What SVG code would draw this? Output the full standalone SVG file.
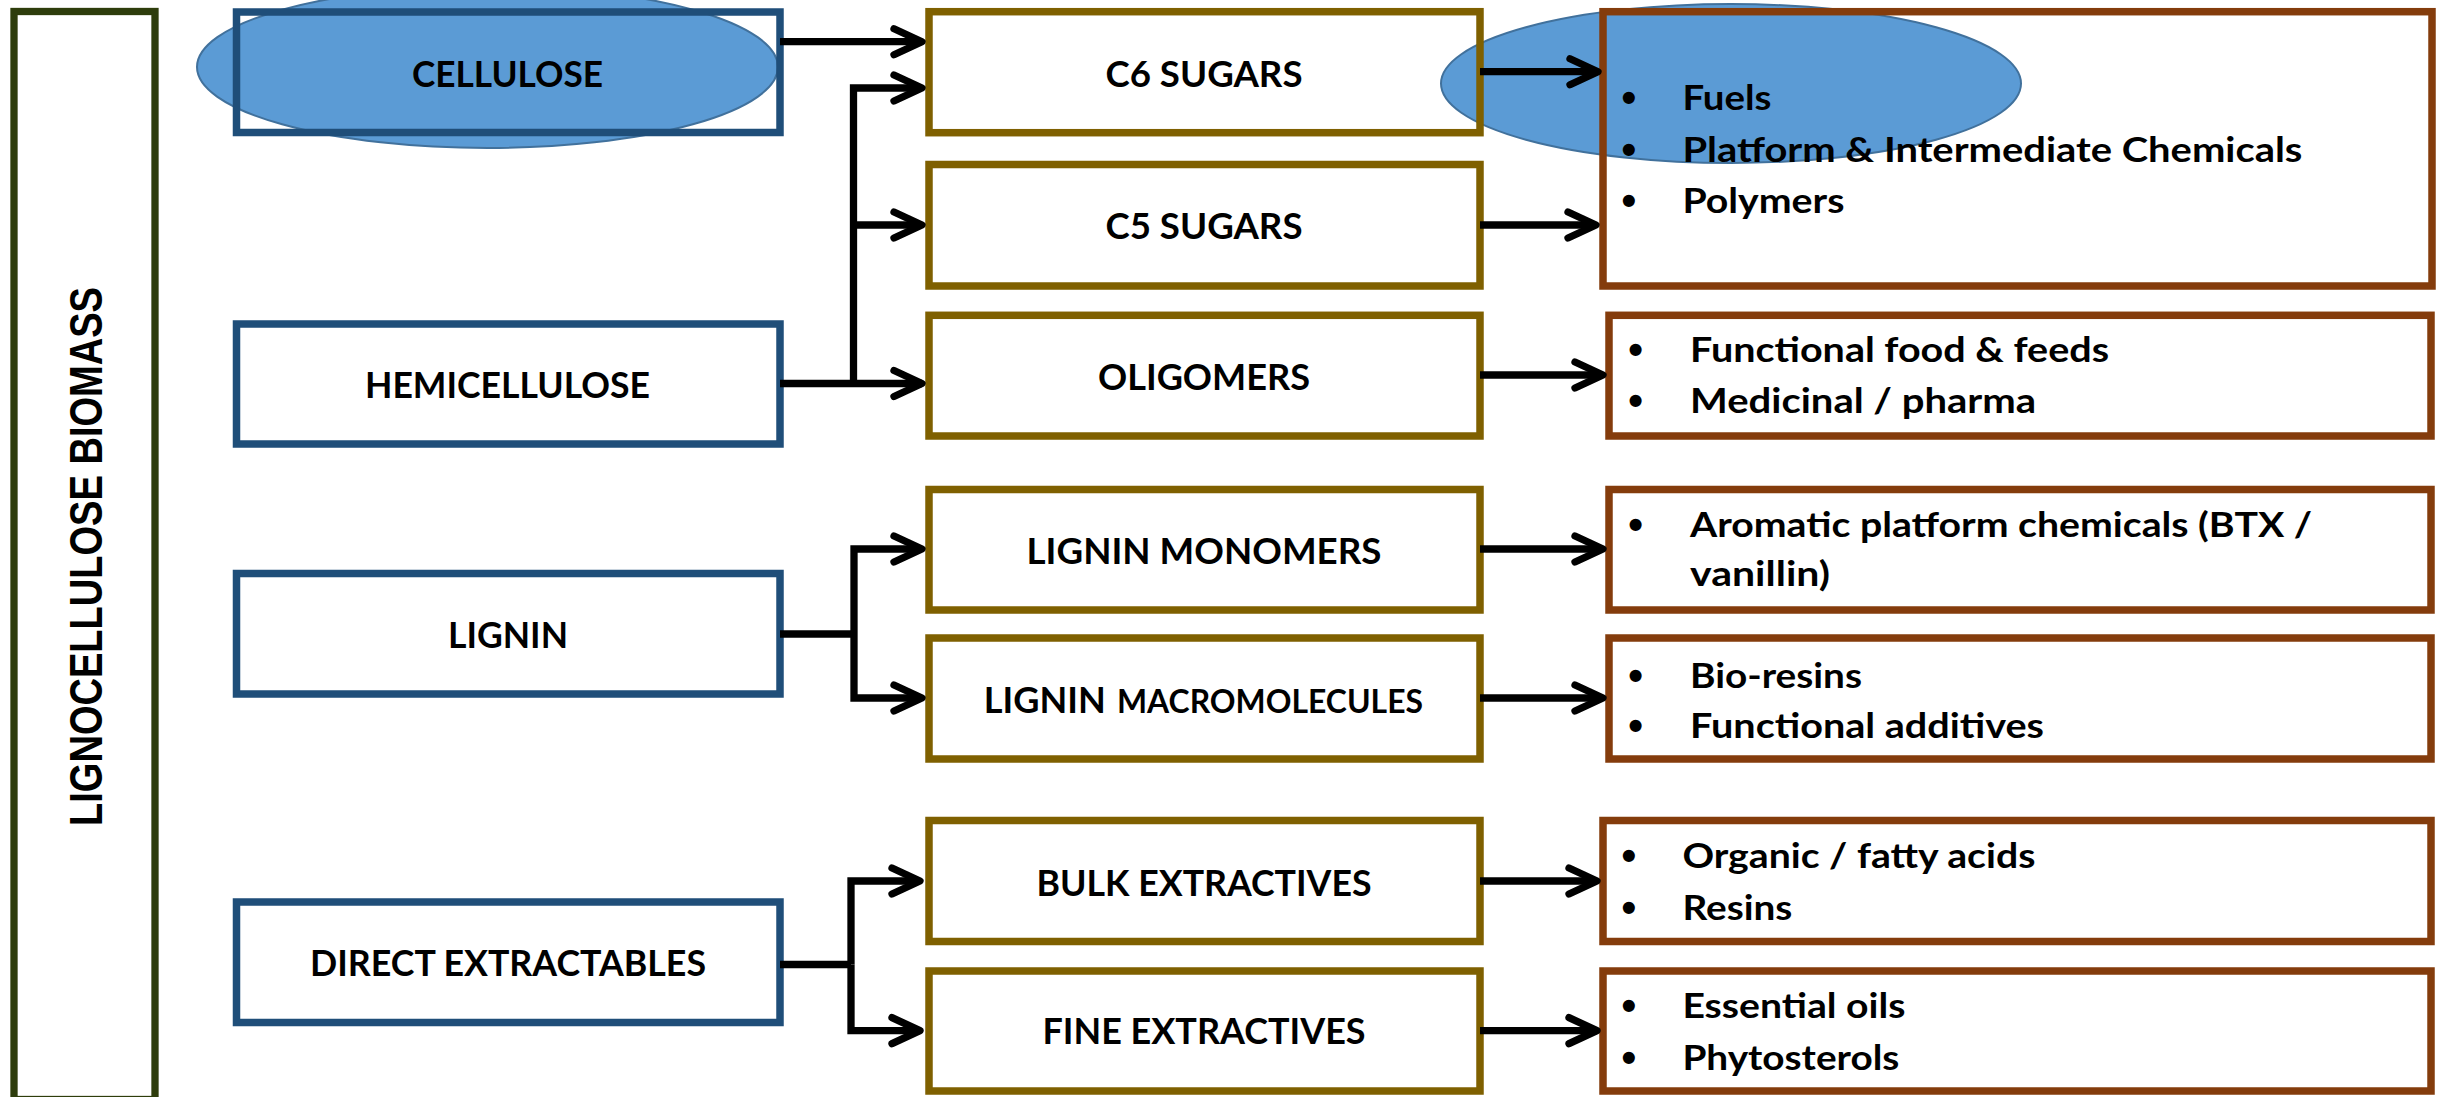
<svg xmlns="http://www.w3.org/2000/svg" width="2445" height="1097" viewBox="0 0 2445 1097">
<style>
.box{fill:none;stroke-width:7.5}
.blue{stroke:#1F4E79}
.gold{stroke:#7F6000}
.brown{stroke:#843C0C}
.ell{fill:#5B9BD5;stroke:#41719C;stroke-width:2}
.lbl{font-family:Lato,"Open Sans","Liberation Sans",sans-serif;font-weight:700;font-size:37px;fill:#000;text-anchor:middle}
.sm{font-family:Lato,"Open Sans","Liberation Sans",sans-serif;font-weight:700;font-size:32px;fill:#000}
.li{font-family:Lato,"Open Sans","Liberation Sans",sans-serif;font-weight:700;font-size:34px;fill:#000}
.bu{font-family:"Liberation Sans",Arial,sans-serif;font-weight:700;font-size:42px;fill:#000;text-anchor:middle}
.vt{font-family:"Liberation Sans",Arial,sans-serif;font-weight:700;font-size:46px;fill:#000;text-anchor:middle}
.conn{fill:none;stroke:#000;stroke-width:7.3;stroke-linejoin:miter}
</style>
<defs>
<marker id="arr" markerUnits="userSpaceOnUse" viewBox="-40 -20 50 40" markerWidth="50" markerHeight="40" refX="0" refY="0" orient="auto" overflow="visible">
<path d="M -28 -13 L 0 0 L -28 13" fill="none" stroke="#000" stroke-width="7.3" stroke-linecap="round" stroke-linejoin="round"/>
</marker>
</defs>
<rect x="0" y="0" width="2445" height="1097" fill="#fff"/>
<g id="highlights">
<ellipse class="ell" cx="487.5" cy="67" rx="290.5" ry="81"/>
<ellipse class="ell" cx="1731" cy="83.5" rx="290" ry="79.5"/>
</g>
<g id="biomass">
<rect x="14" y="11.5" width="141" height="1088" fill="none" stroke="#2E3D0C" stroke-width="7.3"/>
<text class="vt" transform="translate(102,556.5) rotate(-90)" textLength="539" lengthAdjust="spacingAndGlyphs">LIGNOCELLULOSE BIOMASS</text>
</g>
<g id="cellulose"><rect class="box blue" x="236.5" y="12" width="543.5" height="120.5"/><text class="lbl" x="507.5" y="87" textLength="191" lengthAdjust="spacingAndGlyphs">CELLULOSE</text></g>
<g id="hemicellulose"><rect class="box blue" x="236.5" y="324" width="543.5" height="120"/><text class="lbl" x="507.5" y="398.3" textLength="285" lengthAdjust="spacingAndGlyphs">HEMICELLULOSE</text></g>
<g id="lignin"><rect class="box blue" x="236.5" y="573.5" width="543.5" height="120.5"/><text class="lbl" x="508" y="648" textLength="120" lengthAdjust="spacingAndGlyphs">LIGNIN</text></g>
<g id="direct"><rect class="box blue" x="236.5" y="902" width="543.5" height="120.5"/><text class="lbl" x="508" y="975.6" textLength="396" lengthAdjust="spacingAndGlyphs">DIRECT EXTRACTABLES</text></g>
<g id="c6"><rect class="box gold" x="929" y="11.7" width="551" height="121"/><text class="lbl" x="1204" y="87.3" textLength="197" lengthAdjust="spacingAndGlyphs">C6 SUGARS</text></g>
<g id="c5"><rect class="box gold" x="929" y="164.5" width="551" height="121.5"/><text class="lbl" x="1204" y="239.3" textLength="197" lengthAdjust="spacingAndGlyphs">C5 SUGARS</text></g>
<g id="oligomers"><rect class="box gold" x="929" y="315.3" width="551" height="120.7"/><text class="lbl" x="1204" y="390" textLength="212" lengthAdjust="spacingAndGlyphs">OLIGOMERS</text></g>
<g id="ligmono"><rect class="box gold" x="929" y="489.5" width="551" height="120.5"/><text class="lbl" x="1204" y="563.6" textLength="355" lengthAdjust="spacingAndGlyphs">LIGNIN MONOMERS</text></g>
<g id="ligmacro"><rect class="box gold" x="929" y="638" width="551" height="121"/><text class="lbl" x="983.8" y="712.8" textLength="122" lengthAdjust="spacingAndGlyphs" style="text-anchor:start">LIGNIN</text><text class="sm" x="1117" y="712.8" textLength="306" lengthAdjust="spacingAndGlyphs">MACROMOLECULES</text></g>
<g id="bulk"><rect class="box gold" x="929" y="820.5" width="551" height="121"/><text class="lbl" x="1204" y="895.5" textLength="335" lengthAdjust="spacingAndGlyphs">BULK EXTRACTIVES</text></g>
<g id="fine"><rect class="box gold" x="929" y="971" width="551" height="120"/><text class="lbl" x="1204" y="1044" textLength="323" lengthAdjust="spacingAndGlyphs">FINE EXTRACTIVES</text></g>
<g id="products-sugars"><rect class="box brown" x="1603" y="11.7" width="829" height="274.3"/>
<text class="bu" x="1628.8" y="112">•</text><text class="li" x="1682.4" y="110" textLength="89" lengthAdjust="spacingAndGlyphs">Fuels</text>
<text class="bu" x="1628.8" y="163.7">•</text><text class="li" x="1682.4" y="161.7" textLength="620" lengthAdjust="spacingAndGlyphs">Platform &amp; Intermediate Chemicals</text>
<text class="bu" x="1628.8" y="215.3">•</text><text class="li" x="1682.4" y="213.3" textLength="162" lengthAdjust="spacingAndGlyphs">Polymers</text></g>
<g id="products-oligomers"><rect class="box brown" x="1609" y="315.3" width="822" height="120.7"/>
<text class="bu" x="1635.6" y="363.7">•</text><text class="li" x="1690" y="361.7" textLength="419" lengthAdjust="spacingAndGlyphs">Functional food &amp; feeds</text>
<text class="bu" x="1635.6" y="415.3">•</text><text class="li" x="1690" y="413.3" textLength="346" lengthAdjust="spacingAndGlyphs">Medicinal / pharma</text></g>
<g id="products-monomers"><rect class="box brown" x="1609" y="489.5" width="822" height="120.5"/>
<text class="bu" x="1635.6" y="538.8">•</text><text class="li" x="1690" y="536.8" textLength="622" lengthAdjust="spacingAndGlyphs">Aromatic platform chemicals (BTX /</text>
<text class="li" x="1690" y="586" textLength="140" lengthAdjust="spacingAndGlyphs">vanillin)</text></g>
<g id="products-macro"><rect class="box brown" x="1609" y="638" width="822" height="121"/>
<text class="bu" x="1635.6" y="689.6">•</text><text class="li" x="1690" y="687.6" textLength="172" lengthAdjust="spacingAndGlyphs">Bio-resins</text>
<text class="bu" x="1635.6" y="740">•</text><text class="li" x="1690" y="738" textLength="354" lengthAdjust="spacingAndGlyphs">Functional additives</text></g>
<g id="products-bulk"><rect class="box brown" x="1603" y="820.5" width="828" height="121"/>
<text class="bu" x="1628.8" y="870">•</text><text class="li" x="1682.4" y="868" textLength="353" lengthAdjust="spacingAndGlyphs">Organic / fatty acids</text>
<text class="bu" x="1628.8" y="921.8">•</text><text class="li" x="1682.4" y="919.8" textLength="110" lengthAdjust="spacingAndGlyphs">Resins</text></g>
<g id="products-fine"><rect class="box brown" x="1603" y="971" width="828" height="120"/>
<text class="bu" x="1628.8" y="1020">•</text><text class="li" x="1682.4" y="1018" textLength="223" lengthAdjust="spacingAndGlyphs">Essential oils</text>
<text class="bu" x="1628.8" y="1072">•</text><text class="li" x="1682.4" y="1070" textLength="217" lengthAdjust="spacingAndGlyphs">Phytosterols</text></g>
<g id="connectors">
<path class="conn" d="M 780 41.7 H 922" marker-end="url(#arr)"/>
<path class="conn" d="M 780 383.5 H 922" marker-end="url(#arr)"/>
<path class="conn" d="M 853.5 383.5 V 88 H 922" marker-end="url(#arr)"/>
<path class="conn" d="M 853.5 225 H 922" marker-end="url(#arr)"/>
<path class="conn" d="M 780 634 H 854"/>
<path class="conn" d="M 854 634 V 549 H 922" marker-end="url(#arr)"/>
<path class="conn" d="M 854 634 V 698 H 922" marker-end="url(#arr)"/>
<path class="conn" d="M 780 964.5 H 851"/>
<path class="conn" d="M 851 964.5 V 881 H 920" marker-end="url(#arr)"/>
<path class="conn" d="M 851 964.5 V 1030.6 H 920" marker-end="url(#arr)"/>
<path class="conn" d="M 1480 71.7 H 1598" marker-end="url(#arr)"/>
<path class="conn" d="M 1480 225 H 1596" marker-end="url(#arr)"/>
<path class="conn" d="M 1480 375 H 1603" marker-end="url(#arr)"/>
<path class="conn" d="M 1480 549 H 1603" marker-end="url(#arr)"/>
<path class="conn" d="M 1480 698 H 1603" marker-end="url(#arr)"/>
<path class="conn" d="M 1480 881 H 1597" marker-end="url(#arr)"/>
<path class="conn" d="M 1480 1030.6 H 1597" marker-end="url(#arr)"/>
</g>
</svg>
